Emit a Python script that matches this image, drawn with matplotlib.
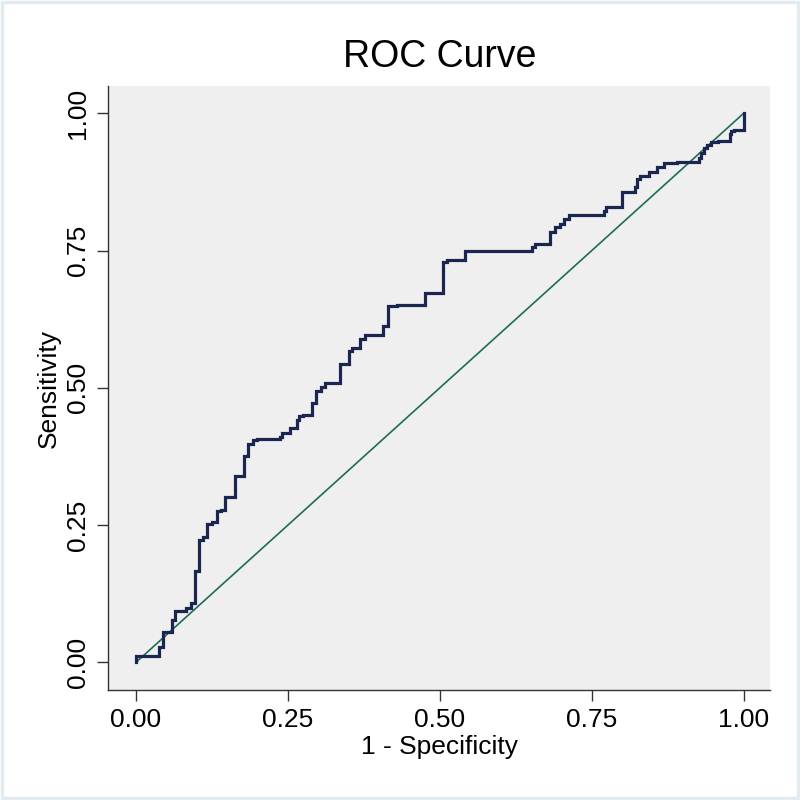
import matplotlib.pyplot as plt
from matplotlib.patches import Rectangle

# ROC curve vertices (1 - specificity, sensitivity)
fpr = [0.000, 0.000, 0.007, 0.038, 0.038, 0.044, 0.044, 0.059, 0.059, 0.064,
       0.064, 0.082, 0.082, 0.090, 0.090, 0.097, 0.097, 0.104, 0.104, 0.111,
       0.111, 0.117, 0.117, 0.125, 0.133, 0.133, 0.140, 0.147, 0.147, 0.163,
       0.163, 0.170, 0.178, 0.178, 0.185, 0.185, 0.192, 0.199, 0.237, 0.240,
       0.254, 0.265, 0.269, 0.275, 0.289, 0.289, 0.296, 0.296, 0.304, 0.311,
       0.319, 0.336, 0.336, 0.350, 0.355, 0.369, 0.377, 0.394, 0.407, 0.407,
       0.414, 0.414, 0.429, 0.476, 0.483, 0.505, 0.505, 0.512, 0.542, 0.542,
       0.652, 0.657, 0.660, 0.681, 0.682, 0.690, 0.697, 0.704, 0.712, 0.726,
       0.770, 0.773, 0.779, 0.800, 0.800, 0.807, 0.822, 0.825, 0.830, 0.844,
       0.858, 0.869, 0.890, 0.926, 0.929, 0.935, 0.940, 0.946, 0.957, 0.977,
       0.979, 0.984, 1.000, 1.000]
tpr = [0.000, 0.009, 0.011, 0.011, 0.028, 0.028, 0.055, 0.055, 0.077, 0.077,
       0.094, 0.094, 0.099, 0.099, 0.108, 0.108, 0.167, 0.167, 0.219, 0.222,
       0.229, 0.229, 0.249, 0.252, 0.256, 0.272, 0.275, 0.278, 0.301, 0.301,
       0.331, 0.339, 0.339, 0.368, 0.376, 0.385, 0.397, 0.405, 0.406, 0.411,
       0.418, 0.427, 0.441, 0.448, 0.451, 0.473, 0.473, 0.488, 0.494, 0.502,
       0.509, 0.509, 0.540, 0.543, 0.567, 0.573, 0.589, 0.596, 0.596, 0.612,
       0.612, 0.640, 0.649, 0.650, 0.673, 0.673, 0.695, 0.729, 0.732, 0.746,
       0.749, 0.756, 0.762, 0.762, 0.778, 0.784, 0.793, 0.799, 0.807, 0.814,
       0.814, 0.822, 0.829, 0.829, 0.851, 0.857, 0.857, 0.866, 0.880, 0.886,
       0.894, 0.902, 0.910, 0.911, 0.918, 0.927, 0.936, 0.943, 0.948, 0.950,
       0.963, 0.967, 0.970, 1.000]

ref_x = [0, 1]
ref_y = [0, 1]
ticks = [0, 0.25, 0.5, 0.75, 1.0]
tick_labels = ['0.00', '0.25', '0.50', '0.75', '1.00']

# turn every slanted segment into a stair step (up first, then across)
sx, sy = [fpr[0]], [tpr[0]]
for x, y in zip(fpr[1:], tpr[1:]):
    if x != sx[-1] and y != sy[-1]:
        sx.append(sx[-1])
        sy.append(y)
    sx.append(x)
    sy.append(y)

plt.rcParams['font.family'] = ['Liberation Sans', 'DejaVu Sans']

fig = plt.figure(figsize=(8, 8), dpi=100, facecolor='white')
ax = fig.add_axes([0.135, 0.137, 0.828, 0.755])
ax.set_facecolor('#efefef')

ax.plot(ref_x, ref_y, color='#1e6b5a', lw=1.2, zorder=2)
ax.plot(sx, sy, color='#1a2550', lw=2.3, zorder=3, solid_joinstyle='miter')

ax.set_xlim(-0.046, 1.044)
ax.set_ylim(-0.051, 1.049)
ax.set_xticks(ticks)
ax.set_xticklabels(tick_labels)
ax.set_yticks(ticks)
ax.set_yticklabels(tick_labels, rotation=90, va='center')
ax.tick_params(direction='out', length=8, width=1, color='#333333',
               labelsize=19, pad=5)

for s in ['top', 'right']:
    ax.spines[s].set_visible(False)
for s in ['left', 'bottom']:
    ax.spines[s].set_color('#333333')
    ax.spines[s].set_linewidth(1)

ax.set_xlabel('1 - Specificity', fontsize=19, labelpad=2)
ax.set_ylabel('Sensitivity', fontsize=19, labelpad=4)
ax.set_title('ROC Curve', fontsize=27, pad=14)

# thin light frame around the whole image
fig.patches.append(Rectangle((0.002, 0.002), 0.996, 0.996, transform=fig.transFigure,
                             fill=False, edgecolor='#e2ecf0', lw=2.5))

fig.savefig('out.png', dpi=100, facecolor='white')
